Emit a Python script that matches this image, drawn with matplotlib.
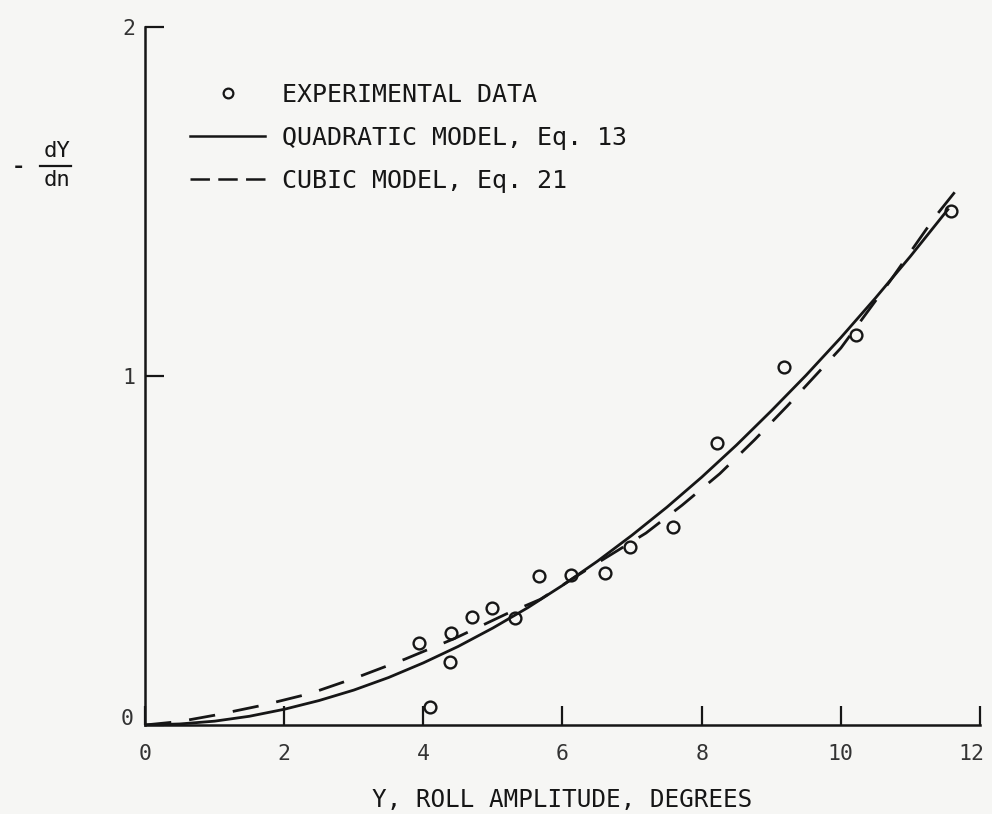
import matplotlib
matplotlib.use("Agg")
import matplotlib.pyplot as plt
from matplotlib.lines import Line2D
from matplotlib.transforms import ScaledTranslation

# Measured roll-damping points
exp_x = [3.94, 4.09, 4.38, 4.40, 4.70, 4.99, 5.32, 5.66, 6.12, 6.61, 6.97, 7.59, 8.22, 9.18, 10.22, 11.59]
exp_y = [0.235, 0.052, 0.180, 0.264, 0.309, 0.335, 0.307, 0.427, 0.430, 0.436, 0.510, 0.567, 0.808, 1.026, 1.117, 1.473]

# Quadratic model curve (Eq. 13)
quad_x = [0, 0.5, 1, 1.5, 2, 2.5, 3, 3.5, 4, 4.5, 5, 5.5, 6, 6.5, 7, 7.5, 8, 8.5, 9, 9.5, 10, 10.5, 11, 11.55]
quad_y = [0, 0.003, 0.011, 0.025, 0.045, 0.070, 0.100, 0.136, 0.178, 0.225, 0.278, 0.336, 0.400, 0.469,
          0.544, 0.624, 0.710, 0.802, 0.900, 1.002, 1.110, 1.224, 1.343, 1.480]

# Cubic model curve (Eq. 21)
cubic_x = [0, 0.5, 1.0, 1.7, 2.37, 3.04, 3.74, 4.45, 5.19, 5.68, 6.45, 7.2, 7.72, 8.26, 8.76, 9.23, 10.0, 10.7, 11.35, 11.65]
cubic_y = [0, 0.010, 0.028, 0.057, 0.090, 0.136, 0.189, 0.248, 0.318, 0.360, 0.458, 0.550, 0.630, 0.720, 0.817, 0.914, 1.080, 1.270, 1.455, 1.530]

x_ticks = [0, 2, 4, 6, 8, 10, 12]
y_ticks = [0, 1, 2]
legend_labels = ["EXPERIMENTAL DATA", "QUADRATIC MODEL, Eq. 13", "CUBIC MODEL, Eq. 21"]

INK = "#161616"
BG = "#f6f6f4"
FONT = "DejaVu Sans Mono"

plt.rcParams["lines.scale_dashes"] = False

fig = plt.figure(figsize=(9.92, 8.14), dpi=100, facecolor=BG)
ax = fig.add_axes([145 / 992, 89 / 814, 835 / 992, 698 / 814])
ax.set_facecolor(BG)

ax.plot(quad_x, quad_y, color=INK, lw=2.0, solid_capstyle="butt", solid_joinstyle="round")
ax.plot(cubic_x, cubic_y, color=INK, lw=2.0, dashes=(19, 13))
ax.plot(exp_x, exp_y, linestyle="none", marker="o", ms=8.5, mfc="none",
        mec=INK, mew=1.7)

ax.set_xlim(0, 12)
ax.set_ylim(0, 2)
ax.set_xticks(x_ticks)
ax.set_yticks(y_ticks)
ax.set_xticklabels([str(v) for v in x_ticks])
ax.set_yticklabels([str(v) for v in y_ticks])

for s in ["top", "right"]:
    ax.spines[s].set_visible(False)
for s in ["left", "bottom"]:
    ax.spines[s].set_linewidth(1.8)
    ax.spines[s].set_color(INK)

ax.tick_params(axis="both", direction="in", length=14, width=1.6, color=INK,
               labelcolor="#333333", labelsize=15.5)
ax.tick_params(axis="x", pad=14)
ax.tick_params(axis="y", pad=7)
for lab in ax.get_xticklabels() + ax.get_yticklabels():
    lab.set_family(FONT)
# keep the last x label inside the figure edge
last = ax.get_xticklabels()[-1]
last.set_transform(last.get_transform() + ScaledTranslation(-9 / 100, 0, fig.dpi_scale_trans))
# lift the y origin label clear of the x axis line
first = ax.get_yticklabels()[0]
first.set_transform(first.get_transform() + ScaledTranslation(-2 / 100, 8 / 100, fig.dpi_scale_trans))

ax.set_xlabel("Y, ROLL AMPLITUDE, DEGREES", family=FONT, fontsize=17.5,
              color=INK, labelpad=17)

# y-axis quantity written as a fraction: - dY/dn
fig.text(18 / 992, 1 - 167 / 814, "-", family=FONT, fontsize=16, color=INK,
         ha="center", va="center", fontweight="bold")
fig.text(57 / 992, 1 - 151 / 814, "dY", family=FONT, fontsize=16, color=INK,
         ha="center", va="center")
fig.text(57 / 992, 1 - 180 / 814, "dn", family=FONT, fontsize=16, color=INK,
         ha="center", va="center")
fig.add_artist(Line2D([40 / 992, 71 / 992], [1 - 166 / 814, 1 - 166 / 814],
                      transform=fig.transFigure, color=INK, lw=1.6))

handles = [
    Line2D([], [], linestyle="none", marker="o", ms=7, mfc="none", mec=INK, mew=1.6),
    Line2D([], [], color=INK, lw=1.8),
    Line2D([], [], color=INK, lw=1.8, dashes=(14, 6)),
]
leg = ax.legend(handles, legend_labels, loc="upper left",
                bbox_to_anchor=(190 / 992, 1 - 83 / 814),
                bbox_transform=fig.transFigure, frameon=False,
                prop={"family": FONT, "size": 18}, handlelength=3.0,
                handletextpad=0.7, labelspacing=0.76, borderaxespad=0,
                borderpad=0)
for t in leg.get_texts():
    t.set_color(INK)

fig.savefig("out.png", dpi=100, facecolor=BG)
